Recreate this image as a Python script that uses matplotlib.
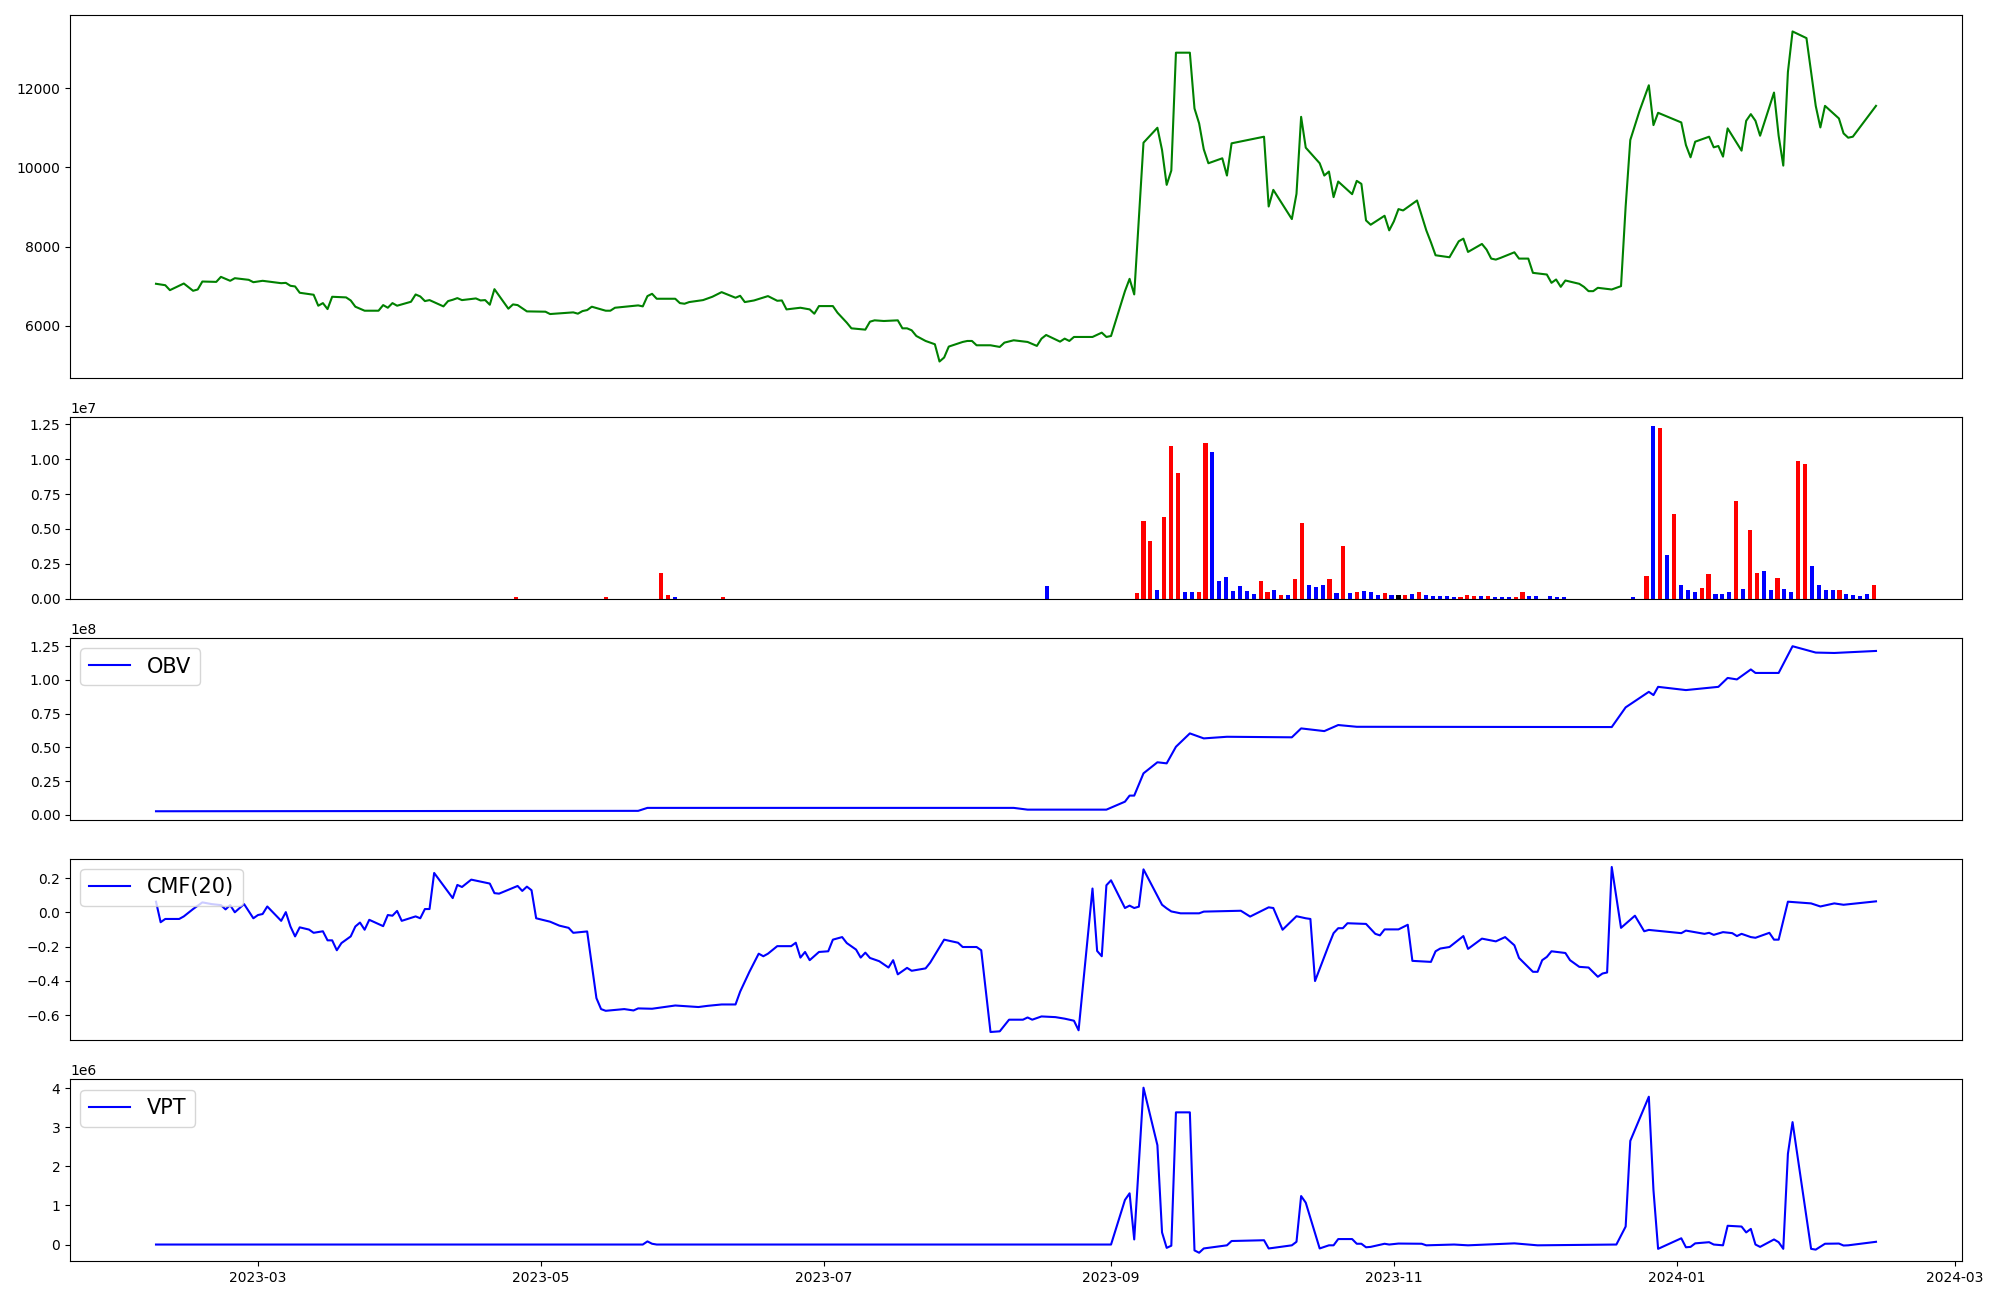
import numpy as np
import pandas as pd
import matplotlib
matplotlib.use('Agg')
import matplotlib.pyplot as plt
import matplotlib.dates as mdates

# close price (turning points)
price_dates = ['2023-02-07', '2023-02-09', '2023-02-10', '2023-02-13', '2023-02-15', '2023-02-16', '2023-02-17',
               '2023-02-20', '2023-02-21', '2023-02-23', '2023-02-24', '2023-02-27', '2023-02-28', '2023-03-02',
               '2023-03-06', '2023-03-07', '2023-03-08', '2023-03-09', '2023-03-10', '2023-03-13', '2023-03-14',
               '2023-03-15', '2023-03-16', '2023-03-17', '2023-03-20', '2023-03-21', '2023-03-22', '2023-03-24',
               '2023-03-27', '2023-03-28', '2023-03-29', '2023-03-30', '2023-03-31', '2023-04-03', '2023-04-04',
               '2023-04-05', '2023-04-06', '2023-04-07', '2023-04-10', '2023-04-11', '2023-04-12', '2023-04-13',
               '2023-04-14', '2023-04-17', '2023-04-18', '2023-04-19', '2023-04-20', '2023-04-21', '2023-04-24',
               '2023-04-25', '2023-04-26', '2023-04-28', '2023-05-02', '2023-05-03', '2023-05-08', '2023-05-09',
               '2023-05-10', '2023-05-11', '2023-05-12', '2023-05-15', '2023-05-16', '2023-05-17', '2023-05-22',
               '2023-05-23', '2023-05-24', '2023-05-25', '2023-05-26', '2023-05-30', '2023-05-31', '2023-06-01',
               '2023-06-02', '2023-06-05', '2023-06-07', '2023-06-09', '2023-06-12', '2023-06-13', '2023-06-14',
               '2023-06-16', '2023-06-19', '2023-06-21', '2023-06-22', '2023-06-23', '2023-06-26', '2023-06-28',
               '2023-06-29', '2023-06-30', '2023-07-03', '2023-07-04', '2023-07-06', '2023-07-07', '2023-07-10',
               '2023-07-11', '2023-07-12', '2023-07-14', '2023-07-17', '2023-07-18', '2023-07-19', '2023-07-20',
               '2023-07-21', '2023-07-23', '2023-07-25', '2023-07-26', '2023-07-27', '2023-07-28', '2023-07-31',
               '2023-08-01', '2023-08-02', '2023-08-03', '2023-08-06', '2023-08-08', '2023-08-09', '2023-08-11',
               '2023-08-14', '2023-08-16', '2023-08-17', '2023-08-18', '2023-08-21', '2023-08-22', '2023-08-23',
               '2023-08-24', '2023-08-28', '2023-08-30', '2023-08-31', '2023-09-01', '2023-09-04', '2023-09-05',
               '2023-09-06', '2023-09-08', '2023-09-11', '2023-09-12', '2023-09-13', '2023-09-14', '2023-09-15',
               '2023-09-18', '2023-09-19', '2023-09-20', '2023-09-21', '2023-09-22', '2023-09-25', '2023-09-26',
               '2023-09-27', '2023-10-04', '2023-10-05', '2023-10-06', '2023-10-10', '2023-10-11', '2023-10-12',
               '2023-10-13', '2023-10-16', '2023-10-17', '2023-10-18', '2023-10-19', '2023-10-20', '2023-10-23',
               '2023-10-24', '2023-10-25', '2023-10-26', '2023-10-27', '2023-10-30', '2023-10-31', '2023-11-01',
               '2023-11-02', '2023-11-03', '2023-11-06', '2023-11-08', '2023-11-09', '2023-11-10', '2023-11-13',
               '2023-11-15', '2023-11-16', '2023-11-17', '2023-11-20', '2023-11-21', '2023-11-22', '2023-11-23',
               '2023-11-24', '2023-11-27', '2023-11-28', '2023-11-30', '2023-12-01', '2023-12-04', '2023-12-05',
               '2023-12-06', '2023-12-07', '2023-12-08', '2023-12-11', '2023-12-12', '2023-12-13', '2023-12-14',
               '2023-12-15', '2023-12-18', '2023-12-20', '2023-12-21', '2023-12-22', '2023-12-24', '2023-12-26',
               '2023-12-27', '2023-12-28', '2024-01-02', '2024-01-03', '2024-01-04', '2024-01-05', '2024-01-08',
               '2024-01-09', '2024-01-10', '2024-01-11', '2024-01-12', '2024-01-15', '2024-01-16', '2024-01-17',
               '2024-01-18', '2024-01-19', '2024-01-22', '2024-01-23', '2024-01-24', '2024-01-25', '2024-01-26',
               '2024-01-29', '2024-01-31', '2024-02-01', '2024-02-02', '2024-02-05', '2024-02-06', '2024-02-07',
               '2024-02-08', '2024-02-13']
close = [7062, 7026, 6901, 7069, 6885, 6918, 7119,
         7110, 7237, 7137, 7203, 7162, 7102, 7137,
         7077, 7085, 7011, 6995, 6835, 6785, 6508,
         6574, 6423, 6734, 6718, 6641, 6483, 6382,
         6382, 6524, 6457, 6574, 6508, 6608, 6792,
         6742, 6625, 6650, 6491, 6625, 6658, 6700,
         6650, 6692, 6641, 6650, 6533, 6926, 6433,
         6541, 6524, 6365, 6357, 6298, 6340, 6307,
         6373, 6398, 6483, 6382, 6382, 6457, 6516,
         6491, 6751, 6809, 6684, 6684, 6574, 6558,
         6600, 6650, 6734, 6851, 6709, 6759, 6600,
         6641, 6751, 6633, 6641, 6415, 6457, 6415,
         6306, 6499, 6499, 6331, 6080, 5937, 5904,
         6105, 6139, 6122, 6139, 5937, 5937, 5887,
         5744, 5618, 5535, 5099, 5200, 5476, 5593,
         5618, 5618, 5509, 5509, 5467, 5576, 5635,
         5593, 5493, 5677, 5769, 5601, 5677, 5618,
         5719, 5719, 5828, 5719, 5744, 6876, 7187,
         6793, 10625, 11002, 10440, 9560, 9921, 12898,
         12898, 11489, 11112, 10458, 10106, 10231, 9795,
         10609, 10776, 9014, 9434, 8696, 9333, 11278,
         10499, 10106, 9795, 9896, 9250, 9644, 9325,
         9661, 9585, 8662, 8553, 8780, 8411, 8637,
         8948, 8914, 9165, 8411, 8109, 7782, 7732,
         8135, 8202, 7866, 8068, 7925, 7698, 7673,
         7715, 7857, 7698, 7698, 7338, 7296, 7086,
         7170, 6985, 7145, 7061, 6985, 6876, 6876,
         6960, 6918, 7002, 9014, 10692, 11430, 12075,
         11069, 11380, 11136, 10566, 10256, 10650, 10776,
         10508, 10541, 10273, 10986, 10424, 11178, 11346,
         11178, 10801, 11891, 10801, 10046, 12410, 13434,
         13266, 11555, 11010, 11555, 11237, 10860, 10751,
         10776, 11555]

# volume bars: 250 rows, only the non-zero ones listed (row number, volume, price move)
n_rows = 250
vol_row = [52, 65, 73, 74, 75, 82, 129,
           142, 143, 144, 145, 146, 147, 148, 149, 150, 151, 152, 153, 154, 155, 156, 157, 158, 159,
           160, 161, 162, 163, 164, 165, 166, 167, 168, 169, 170, 171, 172, 173, 174, 175, 176, 177,
           178, 179, 180, 181, 182, 183, 184, 185, 186, 187, 188, 189, 190, 191, 192, 193, 194, 195,
           196, 197, 198, 199, 200, 202, 203, 204, 214,
           216, 217, 218, 219, 220, 221, 222, 223, 224, 225, 226, 227, 228, 229, 230, 231, 232, 233,
           234, 235, 236, 237, 238, 239, 240, 241, 242, 243, 244, 245, 246, 247, 248, 249]
vol_val = [1.0e5, 1.6e5, 1.88e6, 3.0e5, 1.0e5, 1.0e5, 8.8e5,
           4.0e5, 5.59e6, 4.16e6, 6.6e5, 5.88e6, 1.095e7, 9.02e6, 5.2e5, 4.5e5, 4.5e5, 1.117e7, 1.052e7,
           1.24e6, 1.59e6, 5.9e5, 8.8e5, 5.9e5, 3.1e5,
           1.24e6, 5.2e5, 6.6e5, 2.4e5, 2.4e5, 1.38e6, 5.45e6, 1.02e6, 8.1e5, 9.5e5, 1.45e6, 3.8e5,
           3.81e6, 3.8e5, 4.5e5, 5.9e5, 5.2e5, 2.4e5,
           3.8e5, 2.4e5, 2.4e5, 2.4e5, 3.1e5, 4.5e5, 2.4e5, 1.7e5, 1.7e5, 1.7e5, 1.0e5, 1.0e5, 2.4e5,
           1.7e5, 1.7e5, 1.7e5, 1.0e5, 1.0e5,
           1.0e5, 1.0e5, 5.2e5, 1.7e5, 1.7e5, 1.7e5, 1.0e5, 1.0e5, 1.0e5,
           1.6e6, 1.238e7, 1.224e7, 3.16e6, 6.09e6, 9.5e5, 6.6e5, 4.5e5, 7.4e5, 1.74e6, 3.1e5, 3.1e5,
           4.5e5, 7.02e6, 7.0e5, 4.95e6, 1.88e6, 2.02e6,
           6.0e5, 1.52e6, 7.0e5, 4.5e5, 9.88e6, 9.66e6, 2.38e6, 9.5e5, 6.6e5, 6.0e5, 6.6e5, 3.1e5,
           2.4e5, 1.7e5, 3.1e5, 9.5e5]
vol_move = [1, 1, 1, 1, -1, 1, -1,
            1, 1, 1, -1, 1, 1, 1, -1, -1, 1, 1, -1, -1, -1, -1, -1, -1, -1,
            1, 1, -1, 1, -1, 1, 1, -1, -1, -1, 1, -1, 1, -1, 1, -1, -1, -1,
            1, -1, 0, 1, -1, 1, -1, -1, -1, -1, -1, 1, 1, 1, -1, 1, -1, -1,
            -1, 1, 1, -1, -1, -1, -1, -1, -1,
            1, -1, 1, -1, 1, -1, -1, -1, 1, 1, -1, -1, -1, 1, -1, 1, 1, -1,
            -1, 1, -1, -1, 1, 1, -1, -1, -1, -1, 1, -1, -1, -1, -1, 1]

# OBV
obv_dates = ['2023-02-07', '2023-05-22', '2023-05-24', '2023-08-11', '2023-08-14', '2023-08-31', '2023-09-04',
             '2023-09-05', '2023-09-06', '2023-09-08', '2023-09-11', '2023-09-13', '2023-09-15', '2023-09-18',
             '2023-09-21', '2023-09-26', '2023-10-10', '2023-10-12', '2023-10-17', '2023-10-20', '2023-10-24',
             '2023-12-18', '2023-12-21', '2023-12-26', '2023-12-27', '2023-12-28', '2024-01-03', '2024-01-10',
             '2024-01-12', '2024-01-14', '2024-01-17', '2024-01-18', '2024-01-23', '2024-01-26', '2024-01-31',
             '2024-02-04', '2024-02-13']
obv = [2.7e6, 3.0e6, 5.2e6, 5.2e6, 3.9e6, 3.9e6, 9.8e6,
       14.3e6, 14.3e6, 30.8e6, 39.0e6, 38.2e6, 50.5e6, 60.4e6,
       56.7e6, 57.9e6, 57.5e6, 64.1e6, 62.1e6, 66.6e6, 65.3e6,
       65.1e6, 79.7e6, 91.2e6, 88.8e6, 94.9e6, 92.5e6, 94.9e6,
       101.5e6, 100.4e6, 107.8e6, 105.2e6, 105.2e6, 125.0e6, 120.3e6,
       120.0e6, 121.5e6]

# CMF(20)
cmf_dates = ['2023-02-07', '2023-02-08', '2023-02-09', '2023-02-12', '2023-02-13', '2023-02-15', '2023-02-17',
             '2023-02-19', '2023-02-21', '2023-02-22', '2023-02-23', '2023-02-24', '2023-02-26', '2023-02-28',
             '2023-03-01', '2023-03-02', '2023-03-03', '2023-03-06', '2023-03-07', '2023-03-08', '2023-03-09',
             '2023-03-10', '2023-03-12', '2023-03-13', '2023-03-15', '2023-03-16', '2023-03-17', '2023-03-18',
             '2023-03-19', '2023-03-21', '2023-03-22', '2023-03-23', '2023-03-24', '2023-03-25', '2023-03-28',
             '2023-03-29', '2023-03-30', '2023-03-31', '2023-04-01', '2023-04-04', '2023-04-05', '2023-04-06',
             '2023-04-07', '2023-04-08', '2023-04-12', '2023-04-13', '2023-04-14', '2023-04-16', '2023-04-20',
             '2023-04-21', '2023-04-22', '2023-04-26', '2023-04-27', '2023-04-28', '2023-04-29', '2023-04-30',
             '2023-05-03', '2023-05-05', '2023-05-07', '2023-05-08', '2023-05-11', '2023-05-13', '2023-05-14',
             '2023-05-15', '2023-05-19', '2023-05-21', '2023-05-22', '2023-05-25', '2023-05-30', '2023-06-04',
             '2023-06-06', '2023-06-09', '2023-06-12', '2023-06-13', '2023-06-15', '2023-06-17', '2023-06-18',
             '2023-06-19', '2023-06-21', '2023-06-24', '2023-06-25', '2023-06-26', '2023-06-27', '2023-06-28',
             '2023-06-30', '2023-07-02', '2023-07-03', '2023-07-05', '2023-07-06', '2023-07-08', '2023-07-09',
             '2023-07-10', '2023-07-11', '2023-07-13', '2023-07-15', '2023-07-16', '2023-07-17', '2023-07-19',
             '2023-07-20', '2023-07-23', '2023-07-24', '2023-07-27', '2023-07-30', '2023-07-31', '2023-08-03',
             '2023-08-04', '2023-08-06', '2023-08-08', '2023-08-10', '2023-08-13', '2023-08-14', '2023-08-15',
             '2023-08-17', '2023-08-20', '2023-08-22', '2023-08-24', '2023-08-25', '2023-08-28', '2023-08-29',
             '2023-08-30', '2023-08-31', '2023-09-01', '2023-09-04', '2023-09-05', '2023-09-06', '2023-09-07',
             '2023-09-08', '2023-09-12', '2023-09-13', '2023-09-14', '2023-09-16', '2023-09-20', '2023-09-21',
             '2023-09-29', '2023-10-01', '2023-10-05', '2023-10-06', '2023-10-08', '2023-10-11', '2023-10-13',
             '2023-10-14', '2023-10-15', '2023-10-18', '2023-10-19', '2023-10-20', '2023-10-21', '2023-10-22',
             '2023-10-26', '2023-10-28', '2023-10-29', '2023-10-30', '2023-11-02', '2023-11-04', '2023-11-05',
             '2023-11-09', '2023-11-10', '2023-11-11', '2023-11-13', '2023-11-16', '2023-11-17', '2023-11-20',
             '2023-11-23', '2023-11-25', '2023-11-27', '2023-11-28', '2023-12-01', '2023-12-02', '2023-12-03',
             '2023-12-04', '2023-12-05', '2023-12-08', '2023-12-09', '2023-12-11', '2023-12-13', '2023-12-15',
             '2023-12-16', '2023-12-17', '2023-12-18', '2023-12-20', '2023-12-23', '2023-12-25', '2023-12-26',
             '2024-01-02', '2024-01-03', '2024-01-07', '2024-01-08', '2024-01-09', '2024-01-11', '2024-01-13',
             '2024-01-14', '2024-01-15', '2024-01-17', '2024-01-18', '2024-01-21', '2024-01-22', '2024-01-23',
             '2024-01-25', '2024-01-30', '2024-02-01', '2024-02-04', '2024-02-06', '2024-02-13']
cmf = [0.063, -0.057, -0.038, -0.038, -0.023, 0.020, 0.059,
       0.049, 0.043, 0.018, 0.043, 0.001, 0.049, -0.034,
       -0.015, -0.009, 0.035, -0.049, 0.002, -0.082, -0.140,
       -0.087, -0.100, -0.119, -0.110, -0.163, -0.163, -0.221,
       -0.179, -0.140, -0.082, -0.059, -0.101, -0.043, -0.080,
       -0.015, -0.019, 0.009, -0.049, -0.023, -0.034, 0.020,
       0.020, 0.231, 0.084, 0.161, 0.149, 0.192, 0.169,
       0.113, 0.110, 0.155, 0.126, 0.151, 0.130, -0.034,
       -0.054, -0.077, -0.090, -0.119, -0.111, -0.501, -0.565,
       -0.575, -0.565, -0.573, -0.561, -0.563, -0.544, -0.553,
       -0.546, -0.538, -0.538, -0.463, -0.347, -0.241, -0.256,
       -0.241, -0.197, -0.197, -0.177, -0.264, -0.231, -0.279,
       -0.231, -0.227, -0.159, -0.144, -0.179, -0.217, -0.264,
       -0.235, -0.266, -0.285, -0.322, -0.279, -0.362, -0.324,
       -0.341, -0.327, -0.293, -0.159, -0.177, -0.202, -0.202,
       -0.221, -0.699, -0.695, -0.627, -0.627, -0.614, -0.627,
       -0.608, -0.612, -0.621, -0.633, -0.689, 0.140, -0.225,
       -0.256, 0.159, 0.188, 0.026, 0.040, 0.026, 0.034,
       0.252, 0.045, 0.024, 0.006, -0.005, -0.005, 0.005,
       0.010, -0.024, 0.030, 0.026, -0.101, -0.022, -0.034,
       -0.038, -0.401, -0.188, -0.121, -0.092, -0.092, -0.063,
       -0.067, -0.125, -0.134, -0.099, -0.099, -0.072, -0.283,
       -0.289, -0.227, -0.211, -0.202, -0.138, -0.213, -0.153,
       -0.169, -0.144, -0.192, -0.266, -0.347, -0.347, -0.279,
       -0.260, -0.227, -0.237, -0.279, -0.318, -0.322, -0.376,
       -0.357, -0.351, 0.266, -0.090, -0.019, -0.110, -0.102,
       -0.121, -0.106, -0.125, -0.119, -0.131, -0.115, -0.121,
       -0.138, -0.125, -0.144, -0.148, -0.119, -0.159, -0.159,
       0.063, 0.053, 0.035, 0.053, 0.045, 0.065]

# VPT
vpt_dates = ['2023-02-07', '2023-05-23', '2023-05-24', '2023-05-25', '2023-05-26', '2023-09-01', '2023-09-04',
             '2023-09-05', '2023-09-06', '2023-09-08', '2023-09-11', '2023-09-12', '2023-09-13', '2023-09-14',
             '2023-09-15', '2023-09-18', '2023-09-19', '2023-09-20', '2023-09-21', '2023-09-26', '2023-09-27',
             '2023-10-04', '2023-10-05', '2023-10-06', '2023-10-10', '2023-10-11', '2023-10-12', '2023-10-13',
             '2023-10-16', '2023-10-18', '2023-10-19', '2023-10-20', '2023-10-23', '2023-10-24', '2023-10-25',
             '2023-10-26', '2023-10-27', '2023-10-30', '2023-10-31', '2023-11-02', '2023-11-07', '2023-11-08',
             '2023-11-14', '2023-11-17', '2023-11-27', '2023-12-02', '2023-12-19', '2023-12-21', '2023-12-22',
             '2023-12-26', '2023-12-27', '2023-12-28', '2024-01-02', '2024-01-03', '2024-01-04', '2024-01-05',
             '2024-01-08', '2024-01-09', '2024-01-11', '2024-01-12', '2024-01-15', '2024-01-16', '2024-01-17',
             '2024-01-18', '2024-01-19', '2024-01-22', '2024-01-23', '2024-01-24', '2024-01-25', '2024-01-26',
             '2024-01-30', '2024-01-31', '2024-02-02', '2024-02-05', '2024-02-06', '2024-02-07', '2024-02-13']
vpt = [0.0, 0.0, 0.08e6, 0.02e6, 0.0, 0.0, 1.14e6,
       1.31e6, 0.13e6, 4.01e6, 2.54e6, 0.31e6, -0.085e6, -0.03e6,
       3.38e6, 3.38e6, -0.15e6, -0.21e6, -0.10e6, -0.02e6, 0.09e6,
       0.11e6, -0.10e6, -0.085e6, -0.02e6, 0.07e6, 1.24e6, 1.07e6,
       -0.10e6, -0.02e6, -0.02e6, 0.14e6, 0.14e6, 0.02e6, 0.02e6,
       -0.07e6, -0.06e6, 0.02e6, 0.0, 0.025e6, 0.02e6, -0.02e6,
       0.0, -0.02e6, 0.03e6, -0.02e6, 0.0, 0.46e6, 2.65e6,
       3.78e6, 1.39e6, -0.11e6, 0.16e6, -0.07e6, -0.06e6, 0.03e6,
       0.06e6, 0.0, -0.02e6, 0.48e6, 0.46e6, 0.31e6, 0.40e6,
       0.0, -0.06e6, 0.13e6, 0.06e6, -0.11e6, 2.32e6, 3.13e6,
       -0.11e6, -0.13e6, 0.02e6, 0.025e6, -0.025e6, -0.02e6, 0.07e6]

fig, axes = plt.subplots(5, 1, figsize=(20, 13), gridspec_kw={'height_ratios': [2, 1, 1, 1, 1]})
fig.subplots_adjust(left=0.035, right=0.981, top=0.9885, bottom=0.03, hspace=0.18)
ax_price, ax_vol, ax_obv, ax_cmf, ax_vpt = axes

ax_price.plot(pd.to_datetime(price_dates), close, color='green')

volume = np.zeros(n_rows)
move = np.zeros(n_rows)
volume[vol_row] = vol_val
move[vol_row] = vol_move
bar_colors = ['red' if m > 0 else ('blue' if m < 0 else 'black') for m in move]
ax_vol.bar(np.arange(n_rows), volume, width=0.6, color=bar_colors)

ax_obv.plot(pd.to_datetime(obv_dates), obv, color='blue', label='OBV')
ax_cmf.plot(pd.to_datetime(cmf_dates), cmf, color='blue', label='CMF(20)')
ax_vpt.plot(pd.to_datetime(vpt_dates), vpt, color='blue', label='VPT')

for ax in (ax_obv, ax_cmf, ax_vpt):
    ax.legend(loc='upper left', fontsize=15)

for ax in (ax_price, ax_vol, ax_obv, ax_cmf):
    ax.set_xticks([])

ax_vpt.xaxis.set_major_locator(mdates.MonthLocator(bymonth=[1, 3, 5, 7, 9, 11]))
ax_vpt.xaxis.set_major_formatter(mdates.DateFormatter('%Y-%m'))

plt.savefig('out.png', dpi=100)
